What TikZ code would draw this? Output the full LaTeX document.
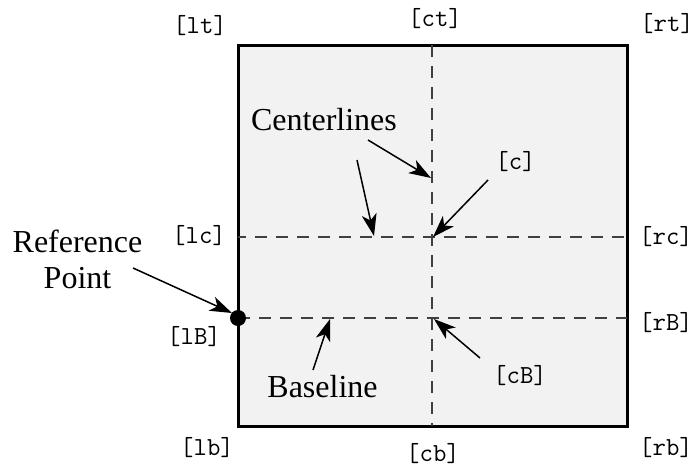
\documentclass[tikz,border=0pt]{standalone}
\usepackage{fontspec}
\setmainfont{Liberation Serif}
\usetikzlibrary{arrows.meta}
\definecolor{boxfill}{HTML}{F2F2F2}
\definecolor{cline}{HTML}{404040}
\tikzset{
  lbl/.style={font=\fontsize{26}{28}\selectfont\ttfamily, inner sep=0pt},
  txt/.style={font=\fontsize{32}{36}\selectfont, inner sep=0pt, align=center},
  ptr/.style={line width=1.5pt, -{Stealth[length=22pt,width=15pt,inset=6pt]}},
  cln/.style={line width=1.6pt, cline, dash pattern=on 12pt off 9pt},
}
\begin{document}
\begin{tikzpicture}[x=1pt,y=-1pt]
\useasboundingbox (0,0) rectangle (699,469);
\node[draw=black, line width=3pt, fill=boxfill, minimum width=389pt, minimum height=381pt, inner sep=0pt] (box) at (432.5,235.5) {};
\coordinate (ct) at (432,45);
\coordinate (cb) at (432,426);
\coordinate (lcp) at (238,237);
\coordinate (rcp) at (627,237);
\coordinate (lBp) at (238,318);
\coordinate (rBp) at (627,318);
\draw[cln] (ct) -- (cb);
\draw[cln, dash phase=4pt] (lcp) -- (rcp);
\draw[cln] (lBp) -- (rBp);
\fill (lBp) circle (8pt);
\node[lbl] (lt) at (200,26) {[lt]};
\node[lbl] (ctl) at (435,19) {[ct]};
\node[lbl] (rt) at (667,24) {[rt]};
\node[lbl] (lc) at (199,236) {[lc]};
\node[lbl] (rc) at (666,237) {[rc]};
\node[lbl] (lB) at (194,337) {[lB]};
\node[lbl] (rB) at (666,323) {[rB]};
\node[lbl] (cB) at (520,376) {[cB]};
\node[lbl] (lb) at (207,448) {[lb]};
\node[lbl] (cbl) at (433,454) {[cb]};
\node[lbl] (rb) at (666,448) {[rb]};
\node[lbl] (c) at (515.5,162) {[c]};
\node[txt] (cl) at (324,120) {Centerlines};
\node[txt] (bl) at (322.5,387) {Baseline};
\node[txt] (rp) at (77.5,259) {Reference\\Point};
\coordinate (s1) at (368,140);
\coordinate (s2) at (357,160);
\coordinate (s3) at (488,180);
\coordinate (s4) at (480,358);
\coordinate (s5) at (313,370);
\coordinate (s6) at (133,268);
\coordinate (a1) at (431,178);
\coordinate (a2) at (374,236);
\coordinate (a3) at (433,237);
\coordinate (a4) at (434,319);
\coordinate (a5) at (330,319);
\coordinate (a6) at (232,313);
\draw[ptr] (s1) -- (a1);
\draw[ptr] (s2) -- (a2);
\draw[ptr] (s3) -- (a3);
\draw[ptr] (s4) -- (a4);
\draw[ptr] (s5) -- (a5);
\draw[ptr] (s6) -- (a6);
\end{tikzpicture}
\end{document}
